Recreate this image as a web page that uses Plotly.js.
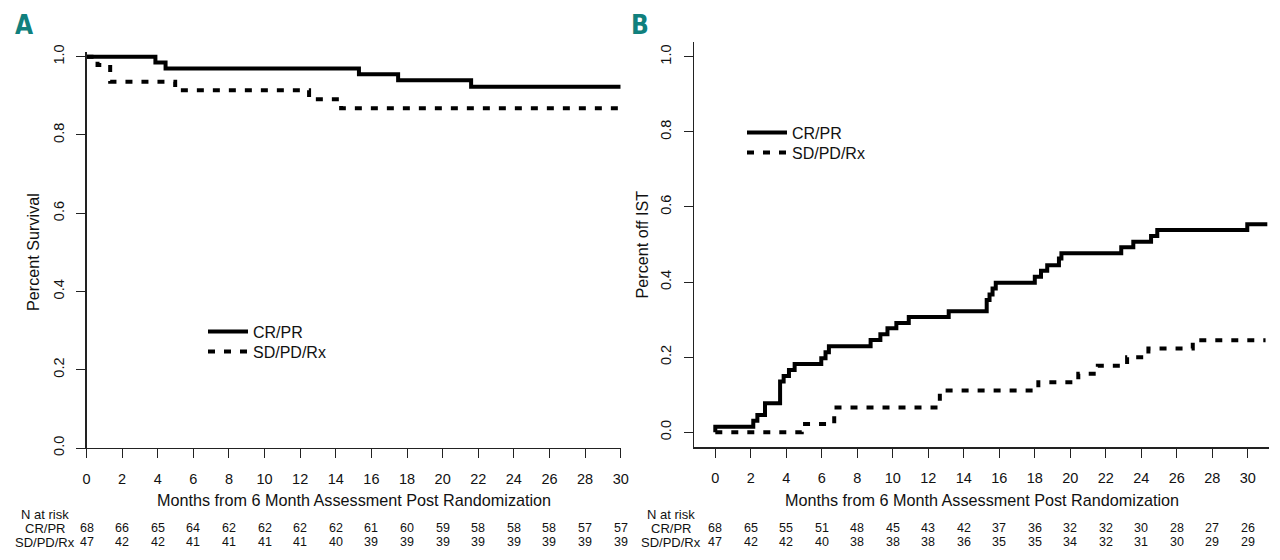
<!DOCTYPE html>
<html>
<head>
<meta charset="utf-8">
<script src="https://cdn.plot.ly/plotly-3.0.1.min.js"></script>
<style>
  html, body { margin: 0; padding: 0; background: #fff; }
  #chart { width: 1280px; height: 560px; }
</style>
</head>
<body>
<div id="chart"></div>
<script>
// ---------- data ----------
const monthTicks = [0, 2, 4, 6, 8, 10, 12, 14, 16, 18, 20, 22, 24, 26, 28, 30];
const probTicks = [0, 0.2, 0.4, 0.6, 0.8, 1.0];
const groupNames = ['CR/PR', 'SD/PD/Rx'];

// Panel A: survival (Kaplan-Meier step points)
const survCR_t = [0, 3.87, 4.44, 15.3, 17.5, 21.6, 30];
const survCR_s = [1.0, 0.985, 0.970, 0.955, 0.940, 0.923, 0.923];
const survSD_t = [0, 0.62, 1.33, 4.98, 12.5, 14.3, 30];
const survSD_s = [1.0, 0.979, 0.936, 0.914, 0.891, 0.868, 0.868];

// Panel B: cumulative off IST (step points)
const offCR_t = [0, 0, 2.14, 2.37, 2.80, 3.65, 3.85, 4.15, 4.47, 5.97, 6.21, 6.40, 8.75, 9.3, 9.7, 10.2, 10.9, 13.15, 15.29, 15.45, 15.62, 15.8, 18.0, 18.35, 18.7, 19.36, 19.5, 22.87, 23.55, 24.55, 24.9, 29.97, 31.1];
const offCR_v = [0, 0.015, 0.031, 0.046, 0.077, 0.135, 0.150, 0.166, 0.182, 0.197, 0.213, 0.229, 0.246, 0.261, 0.277, 0.291, 0.307, 0.322, 0.352, 0.367, 0.383, 0.398, 0.414, 0.430, 0.445, 0.463, 0.477, 0.4925, 0.5075, 0.5226, 0.5386, 0.554, 0.554];
const offSD_t = [0, 4.87, 6.7, 12.65, 18.2, 20.45, 21.55, 23.2, 24.4, 26.9, 31.0];
const offSD_v = [0, 0.022, 0.066, 0.111, 0.133, 0.156, 0.177, 0.200, 0.223, 0.245, 0.245];

// Numbers at risk
const riskCR_A = [68, 66, 65, 64, 62, 62, 62, 62, 61, 60, 59, 58, 58, 58, 57, 57];
const riskSD_A = [47, 42, 42, 41, 41, 41, 41, 40, 39, 39, 39, 39, 39, 39, 39, 39];
const riskCR_B = [68, 65, 55, 51, 48, 45, 43, 42, 37, 36, 32, 32, 30, 28, 27, 26];
const riskSD_B = [47, 42, 42, 40, 38, 38, 38, 36, 35, 35, 34, 32, 31, 30, 29, 29];

const panelLabels = ['A', 'B'];
const xTitle = 'Months from 6 Month Assessment Post Randomization';
const yTitles = ['Percent Survival', 'Percent off IST'];

// ---------- drawing ----------
const W = 1280, H = 560;
const FONT = 'Liberation Sans, Arial, Helvetica, sans-serif';
const INK = '#111';
const px = v => v / W;
const py = v => (H - v) / H;

const solid = {color: '#000', width: 4, shape: 'hv'};
const dashed = {color: '#000', width: 4, shape: 'hv', dash: '7px,9px'};

const traces = [
  {x: survCR_t, y: survCR_s, xaxis: 'x', yaxis: 'y', mode: 'lines', line: solid, name: groupNames[0], legend: 'legend'},
  {x: survSD_t, y: survSD_s, xaxis: 'x', yaxis: 'y', mode: 'lines', line: dashed, name: groupNames[1], legend: 'legend2'},
  {x: offCR_t, y: offCR_v, xaxis: 'x2', yaxis: 'y2', mode: 'lines', line: solid, name: groupNames[0], legend: 'legend3'},
  {x: offSD_t, y: offSD_v, xaxis: 'x2', yaxis: 'y2', mode: 'lines', line: dashed, name: groupNames[1], legend: 'legend4'}
];

function xAxis(domain, range, anchor) {
  return {
    domain: domain, range: range, anchor: anchor,
    tickmode: 'array', tickvals: monthTicks,
    ticks: 'outside', ticklen: 9, tickwidth: 1, tickcolor: '#222',
    showline: true, linecolor: '#222', linewidth: 1.2,
    showgrid: false, zeroline: false, fixedrange: true,
    tickfont: {family: FONT, size: 14.5, color: INK},
    ticklabelstandoff: 8
  };
}
function yAxis(domain, range, anchor) {
  return {
    domain: domain, range: range, anchor: anchor,
    tickmode: 'array', tickvals: probTicks, tickformat: '.1f', tickangle: -90,
    ticks: 'outside', ticklen: 9, tickwidth: 1, tickcolor: '#222',
    showline: true, linecolor: '#222', linewidth: 1.2,
    showgrid: false, zeroline: false, fixedrange: true,
    tickfont: {family: FONT, size: 14.5, color: INK},
    ticklabelstandoff: 7
  };
}

const annotations = [];
function addText(x, y, text, size, opts) {
  annotations.push(Object.assign({
    x: x, y: y, xref: 'paper', yref: 'paper', text: text, showarrow: false,
    xanchor: 'center', yanchor: 'middle',
    font: {family: FONT, size: size, color: INK}
  }, opts || {}));
}

// panel letters
const letterFont = {family: 'Liberation Sans Narrow, DejaVu Sans Condensed, sans-serif', size: 26, color: '#10807d', weight: 'bold'};
addText(px(23.5), py(25), panelLabels[0], 26, {font: letterFont});
addText(px(640), py(25.5), panelLabels[1], 26, {font: letterFont});

// axis titles
addText(px(353.6), py(500), xTitle, 16.2);
addText(px(981.5), py(500), xTitle, 16.2);
addText(px(33), py(252), yTitles[0], 16.2, {textangle: -90});
addText(px(641), py(244.5), yTitles[1], 16.2, {textangle: -90});

// risk tables
function riskTable(xref, labelX, crRow, sdRow) {
  addText(px(labelX), py(514), 'N at risk', 13);
  addText(px(labelX), py(528), groupNames[0], 13);
  addText(px(labelX), py(542), groupNames[1], 13);
  monthTicks.forEach((t, i) => {
    annotations.push({x: t, y: py(528), xref: xref, yref: 'paper', text: String(crRow[i]), showarrow: false,
      xanchor: 'center', yanchor: 'middle', font: {family: FONT, size: 12.5, color: INK}});
    annotations.push({x: t, y: py(542), xref: xref, yref: 'paper', text: String(sdRow[i]), showarrow: false,
      xanchor: 'center', yanchor: 'middle', font: {family: FONT, size: 12.5, color: INK}});
  });
}
riskTable('x', 45, riskCR_A, riskSD_A);
riskTable('x2', 671, riskCR_B, riskSD_B);

const legendStyle = {
  bgcolor: 'rgba(0,0,0,0)', borderwidth: 0,
  font: {family: FONT, size: 16, color: INK},
  itemwidth: 40, xanchor: 'left', yanchor: 'top'
};

const layout = {
  width: W, height: H,
  margin: {l: 0, r: 0, t: 0, b: 0, pad: 0},
  paper_bgcolor: '#fff', plot_bgcolor: '#fff',
  showlegend: true,
  legend: Object.assign({}, legendStyle, {x: px(203), y: py(314.7)}),
  legend2: Object.assign({}, legendStyle, {x: px(203), y: py(334.7)}),
  legend3: Object.assign({}, legendStyle, {x: px(742), y: py(115.7)}),
  legend4: Object.assign({}, legendStyle, {x: px(742), y: py(135.7)}),
  xaxis: xAxis([px(86.5), px(620.7)], [0, 30], 'y'),
  yaxis: yAxis([py(448), py(52)], [0, 1.012], 'x'),
  xaxis2: xAxis([px(694), px(1269.1)], [-1.2, 31.2], 'y2'),
  yaxis2: yAxis([py(447.3), py(41.7)], [-0.04, 1.04], 'x2'),
  annotations: annotations
};

Plotly.newPlot('chart', traces, layout, {displayModeBar: false, staticPlot: true});
</script>
</body>
</html>
